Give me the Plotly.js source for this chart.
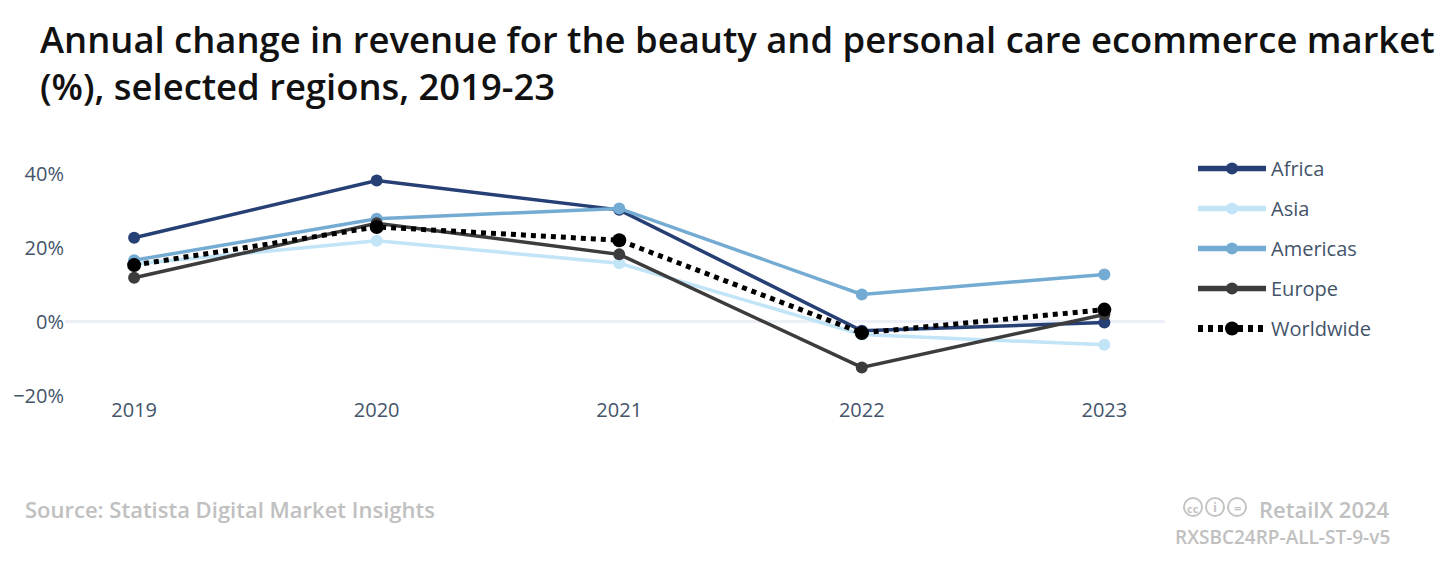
<!DOCTYPE html>
<html>
<head>
<meta charset="utf-8">
<script src="https://cdn.plot.ly/plotly-3.0.1.min.js"></script>
<style>
  html, body { margin: 0; padding: 0; background: #fff; }
  #chart { width: 1454px; height: 564px; }
</style>
</head>
<body>
<div id="chart"></div>
<script>
// Years on the x axis
const years = [2019, 2020, 2021, 2022, 2023];

// Annual change in revenue (%)
const africa = [22.7, 38.1, 30.2, -2.4, -0.2];
const asia = [15.6, 21.9, 15.8, -3.4, -6.2];
const americas = [16.6, 27.8, 30.6, 7.4, 12.8];
const europe = [11.9, 26.6, 18.2, -12.3, 2.0];
const worldwide = [15.3, 25.6, 22.0, -3.0, 3.3];

const seriesNames = ['Africa', 'Asia', 'Americas', 'Europe', 'Worldwide'];
const yTicks = [-20, 0, 20, 40];
const yTickText = ['\u221220%', '0%', '20%', '40%'];

const PX = { l: 65, r: 289, t: 155, b: 168 };
const W = 1454, H = 564;
const plotW = W - PX.l - PX.r;
const plotH = H - PX.t - PX.b;
// helpers to place title and footer text by pixel
const px2x = p => (p - PX.l) / plotW;
const px2y = p => (H - PX.b - p) / plotH;

function lineTrace(name, values, color, width, msize, dash) {
  return {
    x: years,
    y: values,
    name: name,
    legendgroup: name,
    type: 'scatter',
    mode: 'lines+markers',
    line: { color: color, width: width, dash: dash || 'solid' },
    marker: { color: color, size: msize },
    hoverinfo: 'skip'
  };
}

const traces = [
  lineTrace(seriesNames[0], africa, '#263f74', 3.5, 12),
  lineTrace(seriesNames[1], asia, '#c2e4f7', 3.5, 12),
  lineTrace(seriesNames[2], americas, '#74abd2', 3.5, 12),
  lineTrace(seriesNames[3], europe, '#3c3c3c', 3.5, 12),
  lineTrace(seriesNames[4], worldwide, '#000000', 5, 14, 'dot')
];

const tickColor = '#44546a';
const grey = '#c0c0c0';

const layout = {
  width: W,
  height: H,
  paper_bgcolor: '#ffffff',
  plot_bgcolor: '#ffffff',
  font: { family: 'Open Sans, sans-serif', color: tickColor, size: 20 },
  margin: PX,
  xaxis: {
    range: [2018.715, 2023.25],
    tickvals: years,
    ticktext: years.map(String),
    showgrid: false,
    zeroline: false,
    showline: false,
    ticks: '',
    tickfont: { size: 20, color: tickColor }
  },
  yaxis: {
    range: [-20, 45],
    tickvals: yTicks,
    ticktext: yTickText,
    showgrid: false,
    zeroline: true,
    zerolinecolor: '#eceff8',
    zerolinewidth: 3,
    showline: false,
    ticks: '',
    tickfont: { size: 20, color: tickColor }
  },
  showlegend: true,
  legend: {
    x: px2x(1193),
    xanchor: 'left',
    y: px2y(149),
    yanchor: 'top',
    font: { size: 20, color: tickColor },
    itemwidth: 68,
    tracegroupgap: 11,
    bgcolor: 'rgba(0,0,0,0)'
  },
  shapes: [1193, 1215, 1237].map(cx => ({
    type: 'circle', xref: 'paper', yref: 'paper', xsizemode: 'pixel', ysizemode: 'pixel',
    xanchor: px2x(cx), yanchor: px2y(507), x0: -9, x1: 9, y0: -9, y1: 9,
    line: { color: '#c4c4c4', width: 2 }
  })),
  annotations: [
    { text: 'Annual change in revenue for the beauty and personal care ecommerce market<br>(%), selected regions, 2019-23',
      xref: 'paper', yref: 'paper', x: px2x(38), y: px2y(12), xanchor: 'left', yanchor: 'top',
      align: 'left', showarrow: false,
      font: { family: 'Open Sans, sans-serif', size: 36.4, color: '#111111', weight: 600 } },
    { text: 'Source: Statista Digital Market Insights', xref: 'paper', yref: 'paper',
      x: px2x(23), y: px2y(509), xanchor: 'left', yanchor: 'middle', showarrow: false,
      font: { size: 22, color: grey, weight: 600 } },
    { text: 'RetailX 2024', xref: 'paper', yref: 'paper',
      x: px2x(1392), y: px2y(509), xanchor: 'right', yanchor: 'middle', showarrow: false,
      font: { size: 22, color: grey, weight: 600 } },
    { text: 'RXSBC24RP-ALL-ST-9-v5', xref: 'paper', yref: 'paper',
      x: px2x(1392), y: px2y(537), xanchor: 'right', yanchor: 'middle', showarrow: false,
      font: { size: 19, color: grey, weight: 600 } },
    { text: 'cc', xref: 'paper', yref: 'paper', x: px2x(1193), y: px2y(508),
      xanchor: 'center', yanchor: 'middle', showarrow: false,
      font: { size: 11, color: '#c4c4c4', weight: 700 } },
    { text: 'i', xref: 'paper', yref: 'paper', x: px2x(1215), y: px2y(507),
      xanchor: 'center', yanchor: 'middle', showarrow: false,
      font: { size: 13, color: '#c4c4c4', weight: 700 } },
    { text: '=', xref: 'paper', yref: 'paper', x: px2x(1237), y: px2y(508),
      xanchor: 'center', yanchor: 'middle', showarrow: false,
      font: { size: 13, color: '#c4c4c4', weight: 700 } }
  ]
};

Plotly.newPlot('chart', traces, layout, { displayModeBar: false, staticPlot: true }).then(gd => {
  // legend samples are drawn thicker than the plotted lines
  gd.querySelectorAll('.legend .legendlines path').forEach(p => {
    p.style.strokeWidth = (parseFloat(p.style.strokeWidth) || 3.5) + 2 + 'px';
  });
});
</script>
</body>
</html>
